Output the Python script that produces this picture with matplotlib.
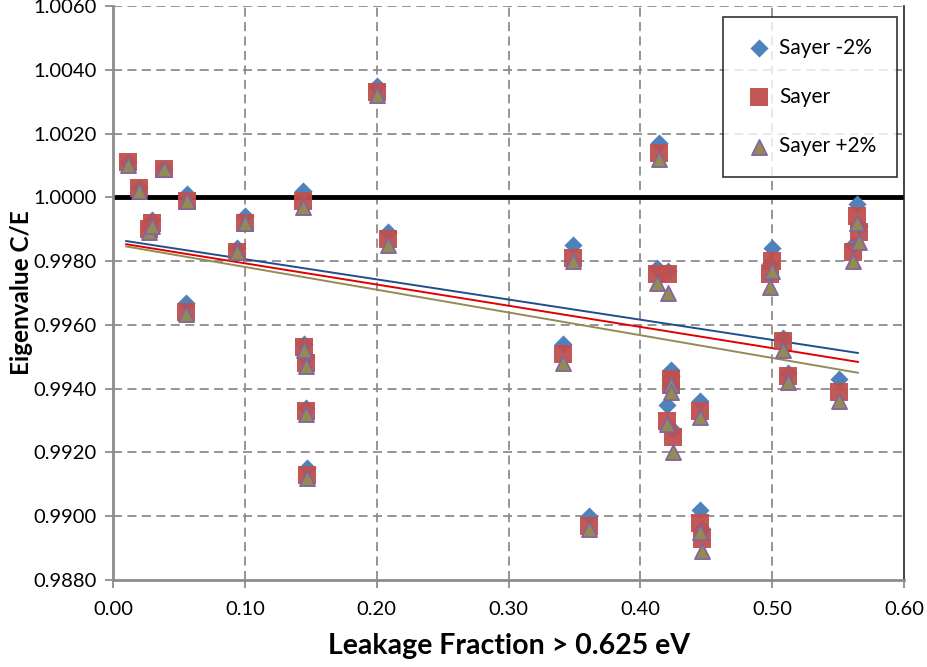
import matplotlib.pyplot as plt
import numpy as np

# leakage fraction > 0.625 eV
leak = [0.011, 0.020, 0.027, 0.0295, 0.039, 0.055, 0.056, 0.094, 0.100, 0.144,
        0.145, 0.1465, 0.1465, 0.147, 0.2005, 0.2085, 0.341, 0.349, 0.361, 0.413,
        0.414, 0.420, 0.421, 0.4235, 0.423, 0.425, 0.445, 0.445, 0.447, 0.4985,
        0.500, 0.508, 0.512, 0.551, 0.5616, 0.5643, 0.5656]

sayer_m2 = [1.0011, 1.0003, 0.9990, 0.9993, 1.0009, 0.9967, 1.0001, 0.9984, 0.9994, 1.0002,
            0.9954, 0.9950, 0.9934, 0.9915, 1.0035, 0.9989, 0.9954, 0.9985, 0.9900, 0.9978,
            1.0017, 0.9935, 0.9977, 0.9946, 0.9944, 0.9927, 0.9936, 0.9902, 0.9896, 0.9979,
            0.9984, 0.9956, 0.9945, 0.9943, 0.9985, 0.9998, 0.9991]

sayer = [1.0011, 1.0003, 0.9990, 0.9992, 1.0009, 0.9964, 0.9999, 0.9983, 0.9992, 0.9999,
         0.9953, 0.9948, 0.9933, 0.9913, 1.0033, 0.9987, 0.9951, 0.9981, 0.9897, 0.9976,
         1.0014, 0.9930, 0.9976, 0.9943, 0.9941, 0.9925, 0.9933, 0.9898, 0.9893, 0.9976,
         0.9980, 0.9955, 0.9944, 0.9939, 0.9983, 0.9994, 0.9989]

sayer_p2 = [1.0010, 1.0002, 0.9989, 0.9991, 1.0009, 0.99635, 0.9999, 0.9983, 0.9992, 0.9997,
            0.9952, 0.9947, 0.9932, 0.9912, 1.0032, 0.9985, 0.9948, 0.9980, 0.9896, 0.9973,
            1.0012, 0.9929, 0.9970, 0.9941, 0.9939, 0.9920, 0.9931, 0.9895, 0.9889, 0.9972,
            0.9977, 0.9952, 0.9942, 0.9936, 0.9980, 0.9992, 0.9986]

# linear trend end points
trend_x = [0.010, 0.565]
trend_m2 = [0.99863, 0.99512]
trend_0 = [0.99853, 0.99484]
trend_p2 = [0.99846, 0.99450]

plt.rcParams['font.family'] = ['Lato', 'DejaVu Sans']

fig = plt.figure(figsize=(9.27, 6.67), dpi=100)
ax = fig.add_axes([0.1219, 0.1304, 0.8533, 0.8606])

grid_c = '#8c8c8c'
for v in np.arange(0.1, 0.6, 0.1):
    ax.axvline(v, color=grid_c, lw=1.3, ls=(0, (5, 3)), zorder=1)
for v in np.arange(0.9900, 1.0061, 0.0020):
    ax.axhline(v, color=grid_c, lw=1.3, ls=(0, (5, 3)), zorder=1)

ax.axhline(1.0, color='black', lw=3.5, zorder=2)

ax.plot(trend_x, trend_m2, color='#1f4e8c', lw=1.4, zorder=3)
ax.plot(trend_x, trend_0, color='#e00000', lw=1.4, zorder=3)
ax.plot(trend_x, trend_p2, color='#948a54', lw=1.4, zorder=3)

ax.scatter(leak, sayer_m2, marker='D', s=85, color='#4f81bd', lw=0, zorder=4, label='Sayer -2%')
ax.scatter(leak, sayer, marker='s', s=150, color='#c0504d', lw=0, alpha=0.95, zorder=5, label='Sayer')
ax.scatter(leak, sayer_p2, marker='^', s=120, color='#948a54', edgecolor='#8064a2', lw=1.2,
           zorder=6, label='Sayer +2%')

ax.set_xlim(0, 0.6)
ax.set_ylim(0.9880, 1.0060)
ax.set_xticks(np.arange(0, 0.61, 0.1))
ax.set_xticklabels([f'{v:.2f}' for v in np.arange(0, 0.61, 0.1)])
ax.set_yticks(np.arange(0.9880, 1.00601, 0.0020))
ax.set_yticklabels([f'{v:.4f}' for v in np.arange(0.9880, 1.00601, 0.0020)])
ax.tick_params(labelsize=14.5, length=6, width=1.3, color='#8c8c8c')
ax.tick_params(axis='x', pad=9)
ax.tick_params(axis='y', pad=6)

for s in ['left', 'bottom']:
    ax.spines[s].set_color('#8c8c8c')
    ax.spines[s].set_linewidth(2)
ax.spines['top'].set_visible(False)
ax.spines['right'].set_color('#222222')
ax.spines['right'].set_linewidth(1.2)

ax.set_xlabel('Leakage Fraction > 0.625 eV', fontsize=20.5, fontweight='bold')
ax.xaxis.set_label_coords(0.5, -0.093)
ax.set_ylabel('Eigenvalue C/E', fontsize=17.5, fontweight='bold')
ax.yaxis.set_label_coords(-0.101, 0.5)

leg = ax.legend(loc='upper right', bbox_to_anchor=(0.991, 0.981), fontsize=15,
                frameon=True, fancybox=False, edgecolor='black', borderpad=1.0,
                labelspacing=1.4, handletextpad=0.2, handlelength=1.5, borderaxespad=0)
leg.get_frame().set_linewidth(1.2)

fig.savefig('out.png', dpi=100)
